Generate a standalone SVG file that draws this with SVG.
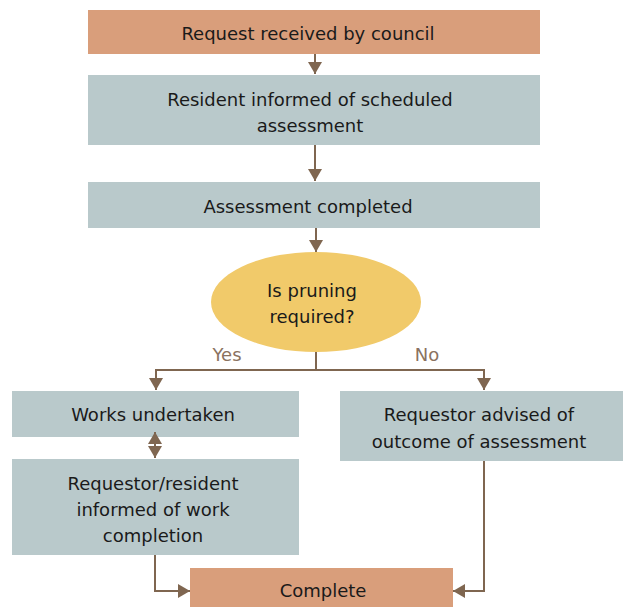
<svg xmlns="http://www.w3.org/2000/svg" width="623" height="607" viewBox="0 0 623 607">
<style>
.t{font-family:"DejaVu Sans","Liberation Sans",sans-serif;font-size:18px;fill:#1a1a1a;text-anchor:middle}
.lbl{font-family:"DejaVu Sans","Liberation Sans",sans-serif;font-size:18px;fill:#8a7260;text-anchor:middle}
.s{fill:#d99e7b}
.g{fill:#b9c9cb}
.c{fill:none;stroke:#7f6650;stroke-width:2}
</style>
<defs>
<marker id="ah" viewBox="0 0 12 14" refX="12" refY="7" markerWidth="12" markerHeight="14" markerUnits="userSpaceOnUse" orient="auto-start-reverse">
<path d="M0,0 L12,7 L0,14 Z" fill="#7f6650"/>
</marker>
</defs>
<g id="n1"><rect class="s" x="88" y="10" width="452" height="44"/><text class="t" x="308" y="39.5">Request received by council</text></g>
<g id="n2"><rect class="g" x="88" y="75" width="452" height="70"/><text class="t" x="310" y="105.5">Resident informed of scheduled</text><text class="t" x="310" y="131.5">assessment</text></g>
<g id="n3"><rect class="g" x="88" y="182" width="452" height="46"/><text class="t" x="308" y="212.5">Assessment completed</text></g>
<g id="n4"><ellipse cx="316" cy="302" rx="105" ry="50" fill="#f1ca6a"/><text class="t" x="312" y="296.5">Is pruning</text><text class="t" x="312" y="322.5">required?</text></g>
<g id="n5"><rect class="g" x="12" y="391" width="287" height="46"/><text class="t" x="153" y="420.5">Works undertaken</text></g>
<g id="n6"><rect class="g" x="340" y="391" width="283" height="70"/><text class="t" x="479" y="420.5">Requestor advised of</text><text class="t" x="479" y="447.5">outcome of assessment</text></g>
<g id="n7"><rect class="g" x="12" y="459" width="287" height="96"/><text class="t" x="153" y="489.5">Requestor/resident</text><text class="t" x="153" y="515.5">informed of work</text><text class="t" x="153" y="541.5">completion</text></g>
<g id="n8"><rect class="s" x="190" y="568" width="263" height="39"/><text class="t" x="323" y="597">Complete</text></g>
<g id="connectors">
<path class="c" d="M315,54 V74" marker-end="url(#ah)"/>
<path class="c" d="M315,145 V181" marker-end="url(#ah)"/>
<path class="c" d="M316,228 V252" marker-end="url(#ah)"/>
<path class="c" d="M316,352 V370"/>
<path class="c" d="M316,370 H156 V390" marker-end="url(#ah)"/>
<path class="c" d="M316,370 H484 V390" marker-end="url(#ah)"/>
<path class="c" d="M155,432 V458" marker-start="url(#ah)" marker-end="url(#ah)"/>
<path class="c" d="M155,555 V591 H190" marker-end="url(#ah)"/>
<path class="c" d="M484,461 V591 H453" marker-end="url(#ah)"/>
<text class="lbl" x="227" y="361">Yes</text>
<text class="lbl" x="427" y="361">No</text>
</g>
</svg>
